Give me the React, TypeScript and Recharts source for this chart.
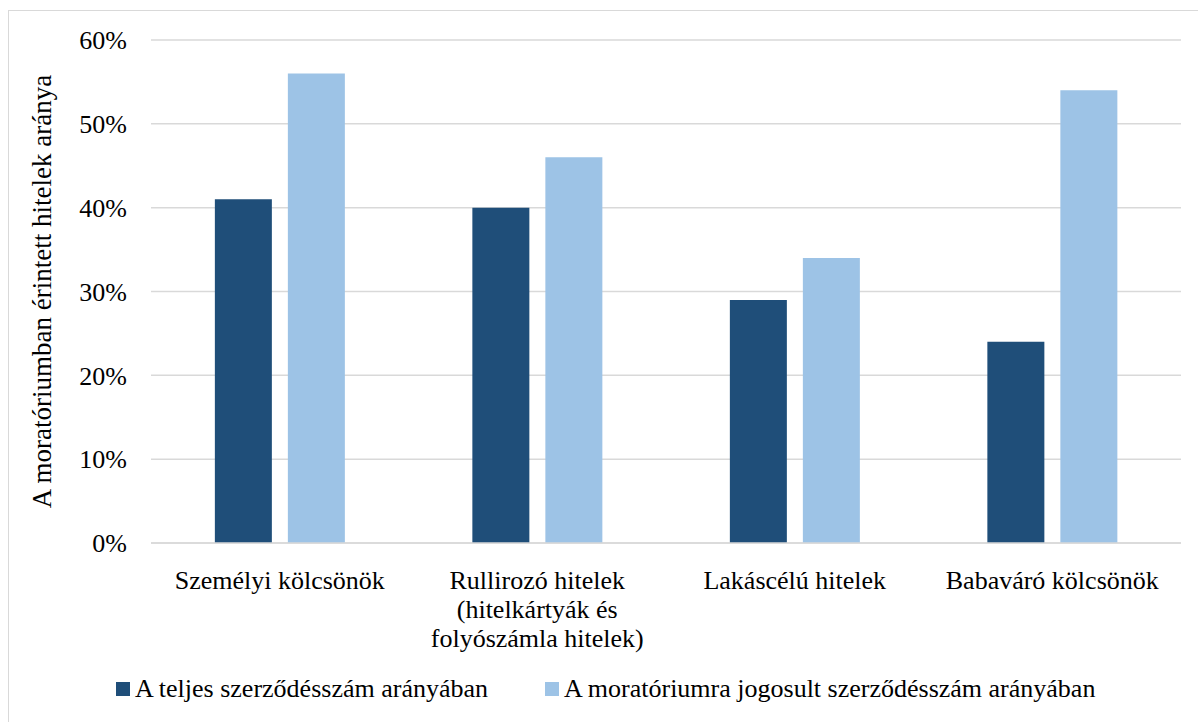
import React from "react";
import {
  BarChart,
  Bar,
  XAxis,
  YAxis,
  CartesianGrid,
  Legend,
} from "recharts";

// Loan categories (multi-line labels split on "\n")
const categories = [
  "Személyi kölcsönök",
  "Rullirozó hitelek\n(hitelkártyák és\nfolyószámla hitelek)",
  "Lakáscélú hitelek",
  "Babaváró kölcsönök",
];

// Share of loans under moratorium, in percent
const shareOfAllContracts = [41, 40, 29, 24];
const shareOfEligibleContracts = [56, 46, 34, 54];

const yTicks = [0, 10, 20, 30, 40, 50, 60];

const seriesNames = [
  "A teljes szerződésszám arányában",
  "A moratóriumra jogosult szerződésszám arányában",
];

const DARK = "#1F4E79";
const LIGHT = "#9DC3E6";
const GRID = "#d9d9d9";
const FONT = "Liberation Serif, Tinos, Times New Roman, DejaVu Serif, serif";
const FS = 26;

const data = categories.map((c, i) => ({
  name: c,
  total: shareOfAllContracts[i],
  eligible: shareOfEligibleContracts[i],
}));

const CategoryTick = (props: any) => {
  const { x, y, payload } = props;
  const lines = String(payload.value).split("\n");
  return (
    <g transform={`translate(${x},${y})`}>
      {lines.map((line: string, i: number) => (
        <text
          key={i}
          x={0}
          y={38 + i * 29}
          textAnchor="middle"
          style={{ fontFamily: FONT, fontSize: FS }}
          fill="#000"
        >
          {line}
        </text>
      ))}
    </g>
  );
};

const LegendContent = () => (
  <div
    style={{
      display: "flex",
      alignItems: "center",
      height: 50,
      paddingLeft: 116,
      fontFamily: FONT,
      fontSize: FS,
      color: "#000",
      whiteSpace: "nowrap",
    }}
  >
    {[DARK, LIGHT].map((col, i) => (
      <div
        key={i}
        style={{ display: "flex", alignItems: "center", width: i === 0 ? 429 : "auto" }}
      >
        <span
          style={{
            display: "inline-block",
            width: 14,
            height: 14,
            background: col,
            marginRight: 5,
          }}
        />
        <span>{seriesNames[i]}</span>
      </div>
    ))}
  </div>
);

export default function App() {
  return (
    <div style={{ position: "absolute", left: 0, top: 0, width: 1198, height: 722, background: "#fff", overflow: "hidden", fontFamily: FONT }}>
      <div
        style={{
          position: "absolute",
          left: 8,
          top: 10,
          width: 1200,
          height: 720,
          border: `1.5px solid ${GRID}`,
          boxSizing: "border-box",
        }}
      />
      <BarChart
        width={1198}
        height={722}
        data={data}
        margin={{ top: 40, right: 17, bottom: 8, left: 0 }}
        barGap={16}
        barCategoryGap="24.8%"
        style={{ position: "absolute", left: 0, top: 0, fontFamily: FONT }}
      >
        <CartesianGrid vertical={false} stroke={GRID} strokeWidth={1.5} />
        <XAxis
          dataKey="name"
          height={121}
          interval={0}
          tickLine={false}
          axisLine={{ stroke: GRID, strokeWidth: 1.5 }}
          tick={<CategoryTick />}
        />
        <YAxis
          width={151}
          domain={[0, 60]}
          ticks={yTicks}
          tickFormatter={(v: number) => `${v}%`}
          axisLine={false}
          tickLine={false}
          tickSize={0}
          tickMargin={24}
          tick={{ fontSize: FS, fill: "#000", style: { fontFamily: FONT } }}
          label={{
            value: "A moratóriumban érintett hitelek aránya",
            angle: -90,
            position: "center",
            dx: -34,
            style: { fontFamily: FONT, fontSize: FS + 1, fill: "#000", textAnchor: "middle" },
          }}
        />
        <Legend verticalAlign="bottom" align="left" content={<LegendContent />} />
        <Bar dataKey="total" name={seriesNames[0]} fill={DARK} isAnimationActive={false} />
        <Bar dataKey="eligible" name={seriesNames[1]} fill={LIGHT} isAnimationActive={false} />
      </BarChart>
    </div>
  );
}
